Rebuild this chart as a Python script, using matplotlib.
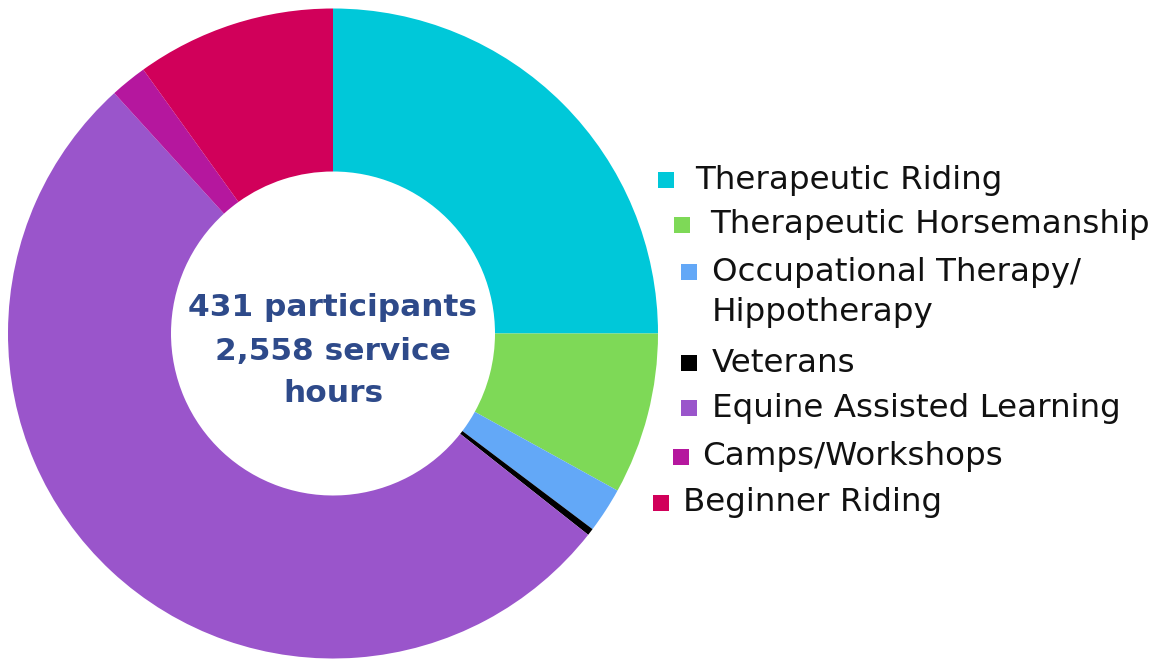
import matplotlib.pyplot as plt
from matplotlib.patches import Rectangle

categories = ['Therapeutic Riding', 'Therapeutic Horsemanship', 'Occupational Therapy/\nHippotherapy',
              'Veterans', 'Equine Assisted Learning', 'Camps/Workshops', 'Beginner Riding']
shares = [25.0, 8.03, 2.25, 0.35, 52.62, 1.83, 9.92]
colors = ['#00C8D9', '#7ED957', '#63A8F7', '#000000', '#9A55CB', '#B5179E', '#D1005A']
center_lines = ['431 participants', '2,558 service', 'hours']

W, H = 1164, 661
fig = plt.figure(figsize=(W / 100, H / 100), dpi=100)
ax = fig.add_axes([0, 0, 1, 1])

# donut, drawn in pixel units (y axis flipped, so counterclock=True runs clockwise on screen)
ax.pie(shares, colors=colors, startangle=-90, counterclock=True,
       center=(333, 333.5), radius=325, frame=True,
       wedgeprops=dict(width=163, linewidth=0))
ax.set_xlim(0, W)
ax.set_ylim(H, 0)
ax.set_aspect('equal')
ax.axis('off')

for txt, y in zip(center_lines, [308, 352, 393]):
    ax.text(333, y, txt, ha='center', va='center', fontsize=22.5, fontweight='bold',
            color='#2E4A8A', family='DejaVu Sans')

# legend, with the staggered layout of the original
marker_x = [658, 674, 681, 681, 681, 673, 653]
text_x = [695, 710, 712, 712, 712, 702, 683]
row_y = [180, 225, 272, 363, 408, 457, 503]
sq = 16
for name, col, mx, tx, y in zip(categories, colors, marker_x, text_x, row_y):
    ax.add_patch(Rectangle((mx, y - sq / 2), sq, sq, color=col, linewidth=0))
    for k, line in enumerate(name.split('\n')):
        ax.text(tx, y + 41 * k, line, ha='left', va='center', fontsize=23.4,
                color='#111111', family='DejaVu Sans')

fig.savefig('out.png', dpi=100)
